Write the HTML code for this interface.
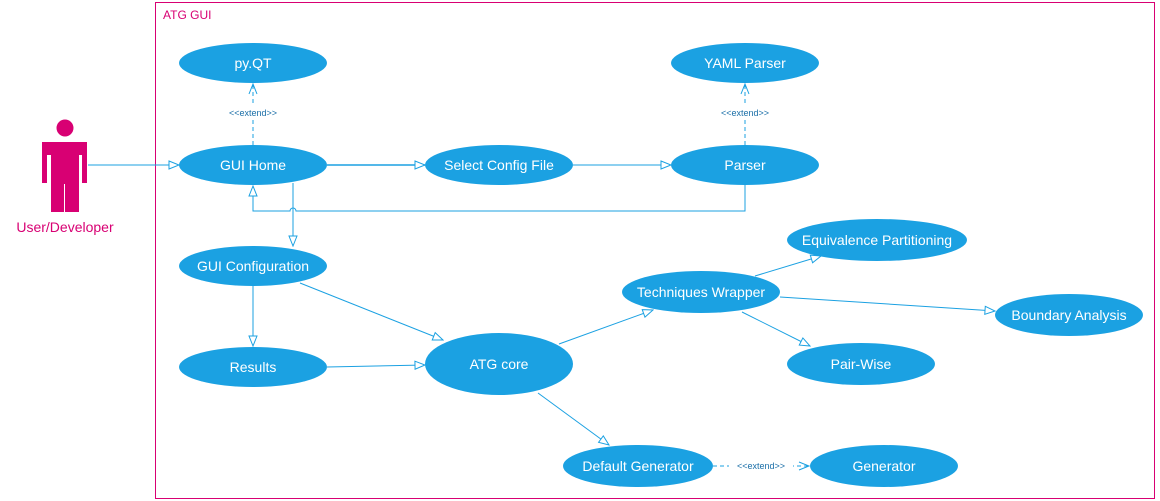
<!DOCTYPE html>
<html><head><meta charset="utf-8"><style>
html,body{margin:0;padding:0;background:#fff;width:1160px;height:501px;overflow:hidden}
text{font-family:"Segoe UI","Liberation Sans",sans-serif}
</style></head><body>
<svg width="1160" height="501" viewBox="0 0 1160 501" xmlns="http://www.w3.org/2000/svg">
<defs>
<marker id="a" viewBox="0 0 12 10" refX="11" refY="5" markerWidth="12" markerHeight="10" markerUnits="userSpaceOnUse" orient="auto">
<path d="M1,1 L11,5 L1,9 Z" fill="#fff" stroke="#1ba1e2" stroke-width="1"/></marker>
<marker id="o" viewBox="0 0 12 10" refX="11" refY="5" markerWidth="12" markerHeight="10" markerUnits="userSpaceOnUse" orient="auto">
<path d="M1,1 L11,5 L1,9" fill="none" stroke="#1ba1e2" stroke-width="1"/></marker>
</defs>
<rect x="155.5" y="2.5" width="999" height="496" fill="none" stroke="#d80073" stroke-width="1"/>
<text x="163" y="19" font-size="12" fill="#d80073">ATG GUI</text>
<!-- actor -->
<circle cx="65" cy="128" r="8.5" fill="#d80073"/>
<path d="M42,142 H87 V183 H82 V155 H79 V212 H66 V183 H64 V212 H51 V155 H47 V183 H42 Z" fill="#d80073"/>
<rect x="51" y="183" width="28" height="29" fill="#d80073"/>
<line x1="64.5" y1="184" x2="64.5" y2="212" stroke="#fff" stroke-width="1"/>
<text x="65" y="232" font-size="14" fill="#d80073" text-anchor="middle">User/Developer</text>
<g stroke="#1ba1e2" stroke-width="1" fill="none">
<line x1="88" y1="165" x2="179" y2="165" marker-end="url(#a)"/>
<line x1="253" y1="145" x2="253" y2="84" stroke-dasharray="4,3" marker-end="url(#o)"/>
<line x1="745" y1="145" x2="745" y2="84" stroke-dasharray="4,3" marker-end="url(#o)"/>
<line x1="327" y1="165" x2="425" y2="165" stroke-width="1.5" marker-end="url(#a)"/>
<line x1="573" y1="165" x2="671" y2="165" marker-end="url(#a)"/>
<path d="M745,185 V211 H296 A3,3 0 0 0 290,211 H253 V186" marker-end="url(#a)"/>
<line x1="293" y1="183" x2="293" y2="246" marker-end="url(#a)"/>
<line x1="253" y1="286" x2="253" y2="346" marker-end="url(#a)"/>
<line x1="300" y1="283" x2="443" y2="340" marker-end="url(#a)"/>
<line x1="327" y1="367" x2="425" y2="365" marker-end="url(#a)"/>
<line x1="559" y1="344" x2="653" y2="310" marker-end="url(#a)"/>
<line x1="755" y1="276" x2="821" y2="256" marker-end="url(#a)"/>
<line x1="780" y1="297" x2="995" y2="311" marker-end="url(#a)"/>
<line x1="742" y1="312" x2="810" y2="346" marker-end="url(#a)"/>
<line x1="538" y1="393" x2="609" y2="445" marker-end="url(#a)"/>
<line x1="713" y1="466" x2="809" y2="466" stroke-dasharray="4,3" marker-end="url(#o)"/>
</g>
<g fill="#fff"><rect x="218" y="105" width="70" height="14"/><rect x="710" y="105" width="70" height="14"/><rect x="729" y="459" width="64" height="14"/></g>
<g font-size="9" fill="#1b6fa8" text-anchor="middle">
<text x="253" y="116">&lt;&lt;extend&gt;&gt;</text>
<text x="745" y="116">&lt;&lt;extend&gt;&gt;</text>
<text x="761" y="469">&lt;&lt;extend&gt;&gt;</text>
</g>
<g fill="#1ba1e2">
<ellipse cx="253" cy="63" rx="74" ry="20"/>
<ellipse cx="745" cy="63" rx="74" ry="20"/>
<ellipse cx="253" cy="165" rx="74" ry="20"/>
<ellipse cx="499" cy="165" rx="74" ry="20"/>
<ellipse cx="745" cy="165" rx="74" ry="20"/>
<ellipse cx="253" cy="266" rx="74" ry="20"/>
<ellipse cx="253" cy="367" rx="74" ry="20"/>
<ellipse cx="499" cy="364" rx="74" ry="31"/>
<ellipse cx="701" cy="292" rx="79" ry="21"/>
<ellipse cx="877" cy="240" rx="90" ry="21"/>
<ellipse cx="1069" cy="315" rx="74" ry="21"/>
<ellipse cx="861" cy="364" rx="74" ry="21"/>
<ellipse cx="638" cy="466" rx="75" ry="21"/>
<ellipse cx="884" cy="466" rx="74" ry="21"/>
</g>
<g fill="#fff" font-size="14" text-anchor="middle">
<text x="253" y="68">py.QT</text>
<text x="745" y="68">YAML Parser</text>
<text x="253" y="170">GUI Home</text>
<text x="499" y="170">Select Config File</text>
<text x="745" y="170">Parser</text>
<text x="253" y="271">GUI Configuration</text>
<text x="253" y="372">Results</text>
<text x="499" y="369">ATG core</text>
<text x="701" y="297">Techniques Wrapper</text>
<text x="877" y="245">Equivalence Partitioning</text>
<text x="1069" y="320">Boundary Analysis</text>
<text x="861" y="369">Pair-Wise</text>
<text x="638" y="471">Default Generator</text>
<text x="884" y="471">Generator</text>
</g>
</svg>
</body></html>
